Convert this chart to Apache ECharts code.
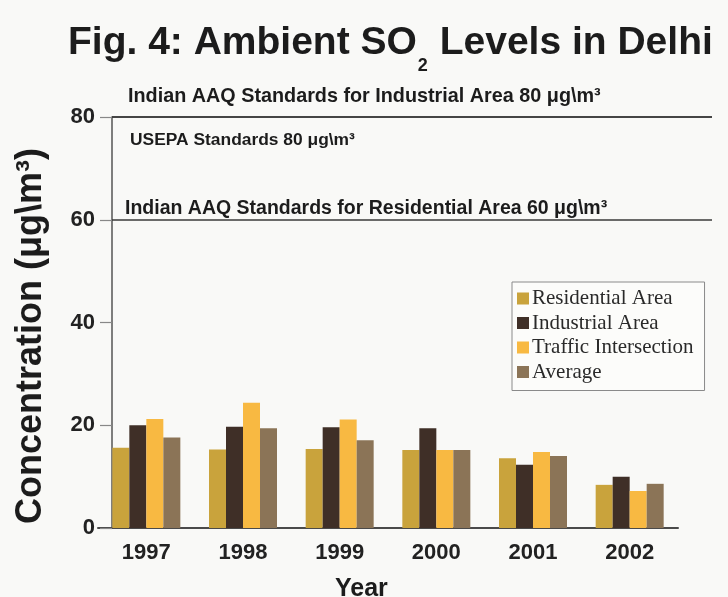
<!DOCTYPE html>
<html>
<head>
<meta charset="utf-8">
<script src="https://cdn.jsdelivr.net/npm/echarts@6/dist/echarts.min.js"></script>
<style>
  html, body { margin: 0; padding: 0; background: #f9f9f7; }
  #chart { width: 728px; height: 597px; }
</style>
</head>
<body>
<div id="chart"></div>
<script>
// Annual mean SO2 concentration (µg/m³) by monitoring category
const years = ['1997', '1998', '1999', '2000', '2001', '2002'];
const residential = [15.6, 15.3, 15.4, 15.2, 13.6, 8.4];
const industrial  = [20.0, 19.7, 19.6, 19.4, 12.3, 10.0];
const traffic     = [21.2, 24.4, 21.1, 15.2, 14.8, 7.2];
const average     = [17.6, 19.4, 17.1, 15.2, 14.0, 8.6];
const seriesNames = ['Residential Area', 'Industrial Area', 'Traffic Intersection', 'Average'];

// Reference standards drawn as horizontal lines
const standardValues = [80, 80, 60];
const standardLabels = [
  'Indian AAQ Standards for Industrial Area 80 μg\\m³',
  'USEPA Standards 80 μg\\m³',
  'Indian AAQ Standards for Residential Area 60 μg\\m³'
];

const yMin = 0, yMax = 80, yStep = 20;

const colors = ['#c9a33c', '#3f2f27', '#f8b942', '#8b7457'];
const sans = '"Liberation Sans", Arial, sans-serif';
const serif = '"Liberation Serif", "Times New Roman", serif';
const ink = '#1c1c1c';

// label placement for each standard line: [horizontal, vertical] distance, side, size
const standardLabelStyle = [
  { position: 'insideStartTop', distance: [16, 10], fontSize: 19.8 },
  { position: 'insideStartBottom', distance: [18, 15], fontSize: 17.4 },
  { position: 'insideStartTop', distance: [13, 1], fontSize: 19.5 }
];

const values = [residential, industrial, traffic, average];
const barSeries = seriesNames.map((name, i) => ({
  name: name,
  type: 'bar',
  xAxisIndex: 1,
  yAxisIndex: 1,
  data: values[i],
  barWidth: 17,
  barGap: '0%',
  itemStyle: { color: colors[i] },
  silent: true
}));

const standardSeries = {
  name: 'standards',
  type: 'line',
  xAxisIndex: 0,
  yAxisIndex: 0,
  data: [],
  silent: true,
  markLine: {
    symbol: 'none',
    silent: true,
    animation: false,
    lineStyle: { color: '#3a3a3a', width: 1.5, type: 'solid' },
    data: standardValues.map((v, i) => ({
      yAxis: v,
      label: {
        show: true,
        formatter: standardLabels[i],
        position: standardLabelStyle[i].position,
        distance: standardLabelStyle[i].distance,
        fontSize: standardLabelStyle[i].fontSize,
        fontWeight: 'bold',
        fontFamily: sans,
        color: ink
      }
    }))
  }
};

const chart = echarts.init(document.getElementById('chart'), null, { renderer: 'canvas' });
chart.setOption({
  animation: false,
  backgroundColor: '#f9f9f7',
  textStyle: { fontFamily: sans },
  title: [
    {
      text: '{m|Fig. 4: Ambient SO}{s|2}{m| Levels in Delhi}',
      left: 63,
      top: 19,
      textStyle: {
        rich: {
          m: { fontSize: 39, fontWeight: 'bold', fontFamily: sans, color: ink, lineHeight: 46, verticalAlign: 'top' },
          s: { fontSize: 18, fontWeight: 'bold', fontFamily: sans, color: ink, lineHeight: 18, verticalAlign: 'top', padding: [33, 1, 0, 1] }
        }
      }
    },
    {
      text: 'Year',
      left: 330,
      top: 572,
      textStyle: { fontSize: 25, fontWeight: 'bold', fontFamily: sans, color: ink }
    }
  ],
  legend: {
    data: seriesNames,
    orient: 'vertical',
    left: 512,
    top: 282,
    padding: [6, 11, 8, 5],
    itemWidth: 12,
    itemHeight: 12,
    itemGap: 3.5,
    icon: 'rect',
    borderColor: '#8a8a8a',
    borderWidth: 1,
    backgroundColor: '#fcfcfa',
    selectedMode: false,
    textStyle: { fontFamily: serif, fontSize: 21, lineHeight: 21, color: '#2a2a2a', padding: [0, 0, 0, -2] }
  },
  grid: [
    { left: 112, right: 16, top: 117, bottom: 69 },
    { left: 98, right: 50, top: 117, bottom: 69 }
  ],
  xAxis: [
    { gridIndex: 0, type: 'value', min: 0, max: 1, show: false },
    {
      gridIndex: 1,
      type: 'category',
      data: years,
      axisLine: { lineStyle: { color: '#4a4a4a', width: 2 } },
      axisTick: { show: false },
      axisLabel: { fontSize: 22, fontWeight: 'bold', color: '#222', margin: 14, fontFamily: sans }
    }
  ],
  yAxis: [
    {
      gridIndex: 0,
      type: 'value',
      min: yMin,
      max: yMax,
      interval: yStep,
      axisLine: { show: true, lineStyle: { color: '#555', width: 1.5 } },
      axisTick: { show: true, length: 12, lineStyle: { color: '#888', width: 1.2 } },
      axisLabel: { fontSize: 22, fontWeight: 'bold', color: '#222', margin: 17, fontFamily: sans },
      splitLine: { show: false }
    },
    { gridIndex: 1, type: 'value', min: yMin, max: yMax, interval: yStep, show: false }
  ],
  graphic: [
    {
      type: 'text',
      x: 31,
      y: 336,
      rotation: Math.PI / 2,
      silent: true,
      style: {
        text: 'Concentration (μg\\m³)',
        font: 'bold 36px ' + sans,
        fill: ink,
        align: 'center',
        verticalAlign: 'middle'
      }
    }
  ],
  series: barSeries.concat([standardSeries])
});
</script>
</body>
</html>
